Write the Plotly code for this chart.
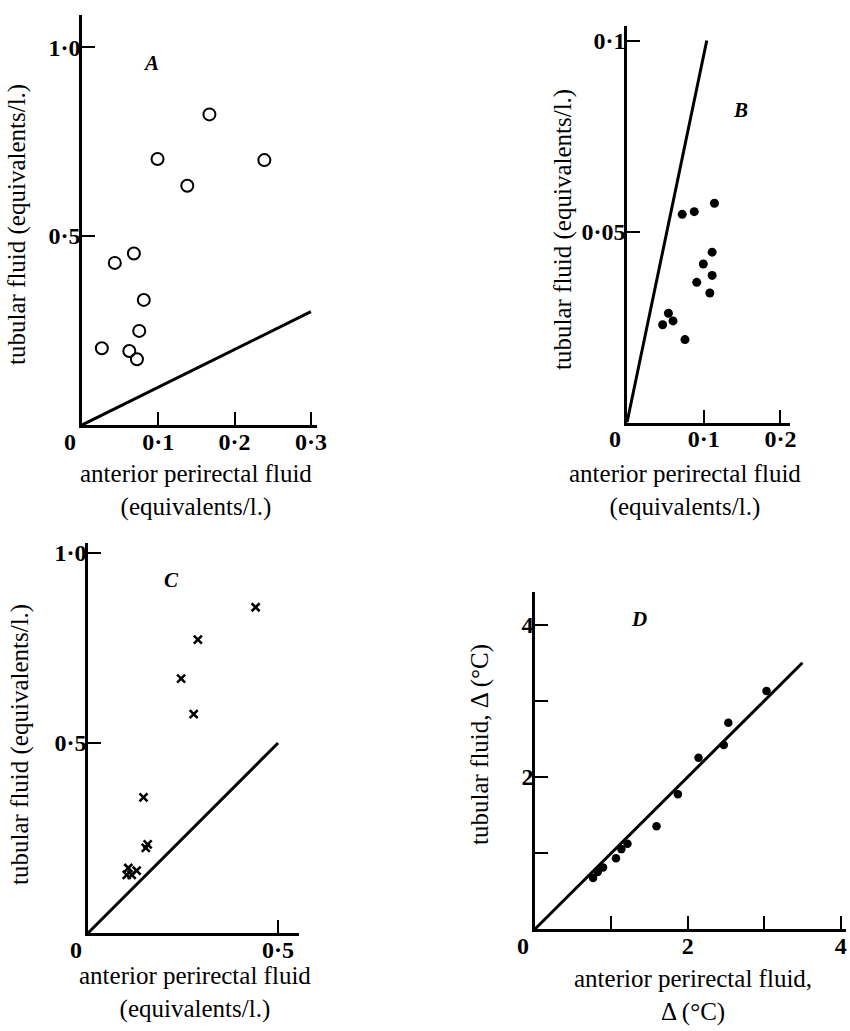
import plotly.graph_objects as go

W, H = 850, 1031

# ---------------- data ----------------
# Panel A (hollow circles)
a_x = [0.026, 0.062, 0.072, 0.075, 0.081, 0.043, 0.068, 0.099, 0.138, 0.167, 0.239]
a_y = [0.203, 0.196, 0.174, 0.249, 0.331, 0.429, 0.454, 0.704, 0.633, 0.822, 0.701]
a_line_x = [0, 0.30]
a_line_y = [0, 0.30]

# Panel B (dots)
b_x = [0.0465, 0.054, 0.060, 0.0756, 0.072, 0.0877, 0.114, 0.0909, 0.0995, 0.111, 0.111, 0.108]
b_y = [0.0256, 0.0286, 0.0266, 0.0217, 0.0545, 0.0552, 0.0574, 0.0367, 0.0415, 0.0446, 0.0385, 0.0339]
b_line_x = [0, 0.104]
b_line_y = [0, 0.100]

# Panel C (crosses)
c_x = [0.441, 0.289, 0.245, 0.278, 0.146, 0.152, 0.157, 0.106, 0.102, 0.115, 0.128]
c_y = [0.857, 0.772, 0.669, 0.576, 0.357, 0.224, 0.233, 0.171, 0.153, 0.153, 0.164]
c_line_x = [0, 0.5]
c_line_y = [0, 0.5]

# Panel D (dots)
d_x = [3.03, 2.53, 2.47, 2.14, 1.87, 1.59, 1.21, 1.13, 1.06, 0.89, 0.82, 0.76]
d_y = [3.13, 2.71, 2.42, 2.25, 1.77, 1.35, 1.12, 1.05, 0.93, 0.81, 0.75, 0.67]
d_line_x = [0, 3.5]
d_line_y = [0, 3.5]

# tick values / labels
a_xt, a_xl = [0, 0.1, 0.2, 0.3], ["0\u2007\u2007", "0·1", "0·2", "0·3"]
a_yt, a_yl = [0.5, 1.0], ["0·5", "1·0"]
b_xt, b_xl = [0, 0.1, 0.2], ["0\u2007\u2007", "0·1", "0·2"]
b_yt, b_yl = [0.05, 0.1], ["0·05", "0·1"]
c_xt, c_xl = [0, 0.5], ["0\u2007\u2007", "0·5"]
c_yt, c_yl = [0.5, 1.0], ["0·5", "1·0"]
d_xt, d_xl = [0, 1, 2, 3, 4], ["0\u2007\u2007", "", "2", "", "4"]
d_yt, d_yl = [1, 2, 3, 4], ["", "2", "", "4"]

# ---------------- helpers ----------------
def fx(px):
    return px / W

def fy(py):
    return 1 - py / H

SERIF = "Liberation Serif"
tickfont = dict(family=SERIF, size=24, color="black", weight="bold")

def axis(x0, x1, rng, tv, tt, horiz=True):
    d = dict(
        domain=[fx(x0), fx(x1)] if horiz else [fy(x1), fy(x0)],
        range=rng, showgrid=False, zeroline=False, showline=True,
        linecolor="black", linewidth=2.5, ticks="inside", ticklen=13,
        tickwidth=2, tickcolor="black", tickvals=tv, ticktext=tt,
        tickfont=tickfont, fixedrange=True, automargin=False,
        ticklabelstandoff=-7 if horiz else -6,
    )
    return d

fig = go.Figure()

line_style = dict(color="black", width=3)

# A
fig.add_trace(go.Scatter(x=a_line_x, y=a_line_y, mode="lines", line=line_style,
                         xaxis="x", yaxis="y", showlegend=False))
fig.add_trace(go.Scatter(x=a_x, y=a_y, mode="markers", xaxis="x", yaxis="y",
                         marker=dict(symbol="circle-open", size=12, color="black",
                                     line=dict(width=2, color="black")),
                         showlegend=False))
# B
fig.add_trace(go.Scatter(x=b_line_x, y=b_line_y, mode="lines", line=line_style,
                         xaxis="x2", yaxis="y2", showlegend=False))
fig.add_trace(go.Scatter(x=b_x, y=b_y, mode="markers", xaxis="x2", yaxis="y2",
                         marker=dict(symbol="circle", size=9, color="black",
                                     line=dict(width=0)),
                         showlegend=False))
# C
fig.add_trace(go.Scatter(x=c_line_x, y=c_line_y, mode="lines", line=line_style,
                         xaxis="x3", yaxis="y3", showlegend=False))
fig.add_trace(go.Scatter(x=c_x, y=c_y, mode="markers", xaxis="x3", yaxis="y3",
                         marker=dict(symbol="x-thin", size=8, color="black",
                                     line=dict(width=2.6, color="black")),
                         showlegend=False))
# D
fig.add_trace(go.Scatter(x=d_line_x, y=d_line_y, mode="lines", line=line_style,
                         xaxis="x4", yaxis="y4", showlegend=False))
fig.add_trace(go.Scatter(x=d_x, y=d_y, mode="markers", xaxis="x4", yaxis="y4",
                         marker=dict(symbol="circle", size=8.5, color="black",
                                     line=dict(width=0)),
                         showlegend=False))

layout = dict(
    width=W, height=H, margin=dict(l=0, r=0, t=0, b=0, pad=0, autoexpand=False),
    paper_bgcolor="white", plot_bgcolor="rgba(0,0,0,0)",
    showlegend=False,
    xaxis=dict(axis(82, 317, [0, 0.308], a_xt, a_xl), anchor="y"),
    yaxis=dict(axis(15, 425, [0, 1.085], a_yt, a_yl, horiz=False), anchor="x"),
    xaxis2=dict(axis(627, 790, [0, 0.2125], b_xt, b_xl), anchor="y2"),
    yaxis2=dict(axis(26, 422.5, [0, 0.1038], b_yt, b_yl, horiz=False), anchor="x2"),
    xaxis3=dict(axis(88, 299, [0, 0.555], c_xt, c_xl), anchor="y3"),
    yaxis3=dict(axis(543, 933, [0, 1.026], c_yt, c_yl, horiz=False), anchor="x3"),
    xaxis4=dict(axis(535, 846, [0, 4.07], d_xt, d_xl), anchor="y4"),
    yaxis4=dict(axis(592, 929, [0, 4.43], d_yt, d_yl, horiz=False), anchor="x4"),
)
fig.update_layout(**layout)

titlefont = dict(family=SERIF, size=25, color="black")
letterfont = dict(family=SERIF, size=21, color="black", weight="bold", style="italic")

def ann(text, px, py, font, angle=0):
    fig.add_annotation(text=text, x=fx(px), y=fy(py), xref="paper", yref="paper",
                       showarrow=False, font=font, textangle=angle,
                       xanchor="center", yanchor="middle")

# axis titles
ann("tubular fluid (equivalents/l.)", 17, 225, titlefont, -90)
ann("anterior perirectal fluid<br>(equivalents/l.)", 196, 490, titlefont)

ann("tubular fluid (equivalents/l.)", 563, 230, titlefont, -90)
ann("anterior perirectal fluid<br>(equivalents/l.)", 685, 490, titlefont)

ann("tubular fluid (equivalents/l.)", 20, 745, titlefont, -90)
ann("anterior perirectal fluid<br>(equivalents/l.)", 195, 992, titlefont)

ann("tubular fluid, \u0394 (°C)", 480, 745, titlefont, -90)
ann("anterior perirectal fluid,<br>\u0394 (°C)", 693, 995, titlefont)

# panel letters
ann("A", 151, 63, letterfont)
ann("B", 740, 110, letterfont)
ann("C", 171, 580, letterfont)
ann("D", 639, 619, letterfont)

fig.write_html("out.html")
